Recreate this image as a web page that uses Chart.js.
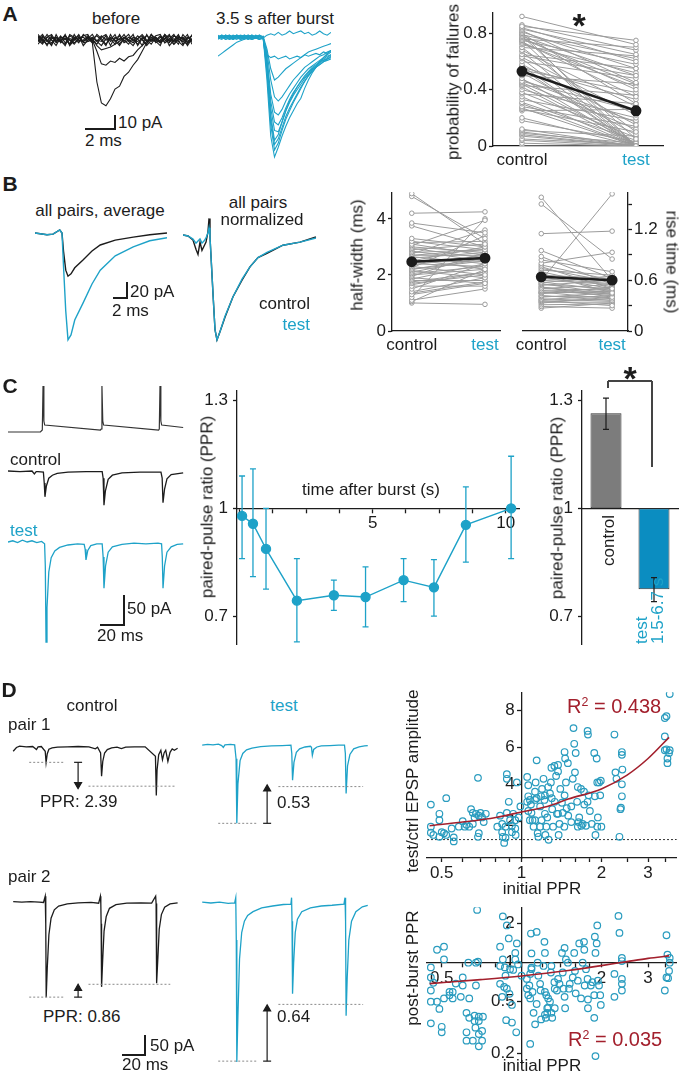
<!DOCTYPE html>
<html><head><meta charset="utf-8">
<script src="https://cdn.jsdelivr.net/npm/chart.js@4.4.1/dist/chart.umd.min.js"></script>
<style>
html,body{margin:0;padding:0;background:#fff;}
#fig{position:relative;width:682px;height:1077px;overflow:hidden;background:#fff;}
canvas{position:absolute;}
</style></head><body><div id="fig"></div>
<script>
// ================= DATA =================
// Panel A: example traces (time in ms, current in pA)
const tBefore = [0,0.3,0.6,0.9,1.2,1.5,1.8,2.1,2.4,2.7,3.0,3.3,3.6,3.9,4.2,4.5,4.8,5.1,5.4,5.7,6.0,6.3,6.6,6.9,7.2,7.5,7.8,8.1,8.4,8.7,9.0,9.3,9.6,9.9,10.2];
const beforeFail1 = [3,-1,4,0,-4,2,1,-3,4,-1,0,3,-1,4,1,-3,2,0,-4,1,4,-1,3,0,-3,4,1,-1,3,-4,0,4,-3,1,3];
const beforeFail2 = [-3,1,-4,2,0,-1,4,-3,1,3,-4,0,2,-1,-4,1,0,4,-3,2,-1,-4,1,4,0,-3,2,-1,1,4,-3,0,2,-4,1];
const beforeFail3 = [1,4,-1,-3,2,0,-4,3,1,-2,4,1,0,-3,2,4,-1,1,3,-2,0,4,-4,1,3,0,-1,-4,4,1,-1,3,0,4,-3];
const beforeFail4 = [0,-3,2,4,-1,1,3,-4,0,4,-2,-1,1,3,0,-4,4,-1,1,0,-3,2,1,-4,4,-1,0,3,-2,1,4,-1,-4,2,0];
const beforeFail5 = [-1,3,0,-4,4,-2,1,0,-3,1,3,4,-2,0,-1,3,-4,2,0,4,-1,1,-3,2,-1,4,-2,0,4,-1,1,-3,4,0,-1];
const beforeFail6 = [4,0,-3,1,2,-1,-3,4,2,0,-1,1,4,-1,3,0,1,-3,4,-1,2,0,-1,1,-4,0,3,4,-2,0,3,1,-1,-3,4];
const beforeResp1 = [1,-2,2,0,-1,3,-2,1,0,2,-1,1,-2,-30,-45,-47,-42,-35,-33,-26,-23,-18,-14,-8,-2,1,-1,2,0,-2,3,1,-1,2,0];
const beforeResp2 = [-1,2,0,-2,1,-1,3,0,-2,1,2,-1,0,-8,-17,-18,-15,-16,-13,-15,-12,-11,-7,-4,-1,2,0,-2,1,3,-1,0,2,-2,1];
const beforeResp3 = [2,0,-1,3,-2,0,1,-3,2,0,-1,2,1,-4,-7,-6,-5,-3,-1,2,0,-2,1,3,-1,0,2,-2,1,0,-3,2,1,-1,0];

const tAfter = [0,0.25,0.5,0.75,1,1.25,1.5,1.75,2,2.25,2.5,2.75,3,3.25,3.5,3.75,4,4.25,4.5,4.75,5,5.25,5.5,5.75,6,6.25,6.5,6.75,7,7.25,7.5];
const afterFail1 = [1,0,2,1,-1,2,0,1,2,0,1,-1,0,2,3,2,4,2,3,5,3,4,5,3,4,2,3,5,3,2,4];
const afterFail2 = [-13,-11,-9,-7,-5,-3,-2,-1,0,-1,0,1,0,-12,-14,-13,-15,-14,-13,-15,-14,-13,-14,-12,-13,-12,-11,-12,-10,-11,-9];
const afterResp1 = [0,1,-1,0,1,2,0,-1,1,0,2,1,0,-30,-70,-85,-78,-70,-63,-57,-52,-47,-43,-36,-30,-25,-21,-17,-14,-11,-9];
const afterResp2 = [1,0,2,1,0,-1,1,2,0,1,0,-1,1,-25,-62,-80,-75,-66,-58,-52,-46,-41,-36,-31,-27,-23,-20,-17,-15,-13,-12];
const afterResp3 = [-1,1,0,2,1,0,-1,0,1,2,1,0,-1,-22,-58,-76,-72,-64,-56,-50,-45,-40,-35,-31,-27,-24,-21,-19,-17,-15,-14];
const afterResp4 = [0,2,1,-1,0,1,2,1,-1,0,1,2,0,-20,-55,-73,-69,-60,-52,-45,-40,-35,-31,-28,-25,-22,-20,-18,-16,-15,-13];
const afterResp5 = [2,0,1,0,-1,1,0,2,1,-1,0,1,1,-18,-50,-66,-67,-60,-52,-46,-41,-37,-33,-29,-26,-23,-21,-19,-17,-16,-15];
const afterResp6 = [0,-1,1,2,0,1,-1,0,2,1,0,1,0,-16,-45,-60,-62,-57,-50,-44,-39,-35,-31,-27,-24,-21,-19,-17,-16,-14,-12];
const afterResp7 = [1,2,0,1,-1,0,1,0,1,2,0,-1,1,-14,-40,-53,-55,-51,-45,-40,-36,-32,-28,-25,-22,-20,-18,-16,-14,-12,-10];
const afterResp8 = [0,1,-1,0,2,1,0,1,0,-1,1,0,0,-10,-30,-42,-45,-42,-38,-34,-30,-27,-24,-21,-19,-17,-15,-13,-12,-10,-9];
const afterResp9 = [1,0,1,-1,0,2,1,0,-1,1,0,2,1,-8,-22,-30,-28,-25,-22,-20,-18,-16,-14,-12,-10,-9,-8,-7,-6,-5,-4];

// Panel A: probability of failures (control -> test)
const pairLabels = ['control','test'];
const failCtrl = [0.92,0.85,0.84,0.83,0.82,0.81,0.8,0.8,0.79,0.78,0.78,0.77,0.76,0.75,0.75,0.74,0.73,0.72,0.7,0.7,0.68,0.67,0.65,0.63,0.62,0.6,0.58,0.56,0.55,0.54,0.52,0.5,0.48,0.46,0.45,0.44,0.43,0.42,0.4,0.38,0.37,0.35,0.33,0.31,0.3,0.28,0.27,0.26,0.25,0.2,0.18,0.12,0.11,0.1,0.09,0.08,0.07,0.05,0.04,0.02,0.0,0.86,0.76,0.64,0.57,0.47];
const failTest = [0.72,0.75,0.6,0.65,0.45,0.55,0.3,0.0,0.62,0.5,0.05,0.4,0.7,0.58,0.0,0.35,0.42,0.52,0.1,0.64,0.28,0.0,0.55,0.22,0.0,0.48,0.15,0.33,0.0,0.38,0.08,0.44,0.0,0.25,0.12,0.02,0.36,0.0,0.2,0.06,0.3,0.0,0.18,0.04,0.0,0.14,0.0,0.1,0.26,0.0,0.03,0.0,0.07,0.0,0.02,0.0,0.0,0.01,0.0,0.0,0.0,0.68,0.44,0.5,0.0,0.17];
const failMean = [0.53, 0.25];
const failErr = [0.03, 0.03];
const failTicks = [0, 0.4, 0.8];

// Panel B: average traces (ms, pA) and normalized traces
const tAvg = [0,1.6,2.4,3.3,3.6,3.8,4.1,4.4,4.8,5.3,6.4,7.6,8.7,10.7,13.1,15.3,17.6];
const avgCtrl = [0,-3,-2,5,0,-30,-62,-72,-68,-58,-45,-30,-20,-12,-7,-3,0];
const avgTest = [0,-3,-2,5,0,-55,-130,-178,-170,-145,-117,-85,-62,-38,-23,-13,-8];
const tNorm = [0,0.67,1.33,1.73,2.0,2.27,2.53,2.8,3.07,3.33,3.47,3.6,4.0,4.27,4.53,4.93,5.6,6.67,7.87,8.93,10.0,11.2,13.33,15.6,17.73];
const normCtrl = [0.02,0.01,-0.03,-0.12,-0.17,-0.05,-0.13,-0.09,-0.05,0.05,0.18,0.0,-0.55,-0.9,-1.0,-0.92,-0.78,-0.58,-0.42,-0.29,-0.2,-0.16,-0.08,-0.05,0.0];
const normTest = [0.02,0.01,-0.02,-0.06,-0.04,-0.02,-0.06,-0.04,-0.01,0.04,0.09,0.0,-0.55,-0.9,-1.0,-0.92,-0.77,-0.58,-0.41,-0.29,-0.2,-0.15,-0.08,-0.05,-0.01];

// Panel B: half-width and rise time pairs
const hwCtrl = [4.9,4.8,4.2,3.85,3.75,3.3,3.2,3.1,3.05,3.0,2.95,2.9,2.85,2.8,2.75,2.7,2.65,2.6,2.55,2.5,2.5,2.45,2.4,2.35,2.3,2.25,2.2,2.15,2.1,2.05,2.0,1.95,1.9,1.85,1.8,1.75,1.7,1.6,1.5,1.4,1.3,1.2,1.1,1.05,1.0,3.15,2.7,2.2,1.65,1.35];
const hwTest = [3.1,3.3,4.25,3.5,3.0,3.0,2.9,2.7,3.95,2.8,2.6,3.1,2.5,2.9,3.6,2.7,2.4,2.8,2.2,3.0,2.6,2.5,2.3,2.7,2.0,3.4,2.5,1.9,2.6,2.3,2.2,2.8,1.7,2.4,1.8,2.1,2.0,1.6,2.4,1.9,1.7,4.0,1.5,2.2,0.95,3.2,2.9,2.6,2.1,1.75];
const hwMean = [2.47, 2.6];
const hwErr = [0.1, 0.1];
const hwTicks = [0, 2, 4];
const riseCtrl = [1.58,1.5,1.15,0.95,0.88,0.84,0.8,0.78,0.76,0.74,0.72,0.7,0.68,0.66,0.64,0.62,0.6,0.58,0.57,0.56,0.55,0.54,0.52,0.5,0.5,0.48,0.47,0.46,0.45,0.44,0.42,0.41,0.4,0.38,0.37,0.36,0.35,0.34,0.33,0.31,0.29,0.27,0.6,0.45,0.52];
const riseTest = [0.6,0.85,1.18,0.62,0.55,0.7,0.93,0.6,0.5,0.58,0.66,0.52,0.45,0.62,0.5,0.56,1.62,0.48,0.65,0.44,0.5,0.6,0.4,0.48,0.55,0.42,0.5,0.38,0.46,0.52,0.36,0.4,0.45,0.35,0.42,0.3,0.38,0.34,0.4,0.32,0.27,0.33,0.55,0.47,0.43];
const riseMean = [0.64, 0.6];
const riseErr = [0.03, 0.025];
const riseTicks = [0, 0.3, 0.6, 0.9, 1.2, 1.5];
const riseLabelled = [0, 0.6, 1.2];

// Panel C: traces (ms; mV / pA)
const tAP = [0,27,28.6,29.2,29.9,30.6,77,77.7,78.3,79,79.7,125.5,126.1,126.7,127.4,128.1,146];
const vAP = [-70,-70,-66,22,-48,-56,-66,-64,22,-48,-56,-66,-64,22,-48,-56,-61];
const tCCtrl = [0,10,20,22,23.5,25,29.5,30.2,30.8,32,34,37,41,50,65,78.5,79.3,80,81.2,83.5,87,95,110,127.5,128.5,129.2,130.5,132.5,136,146];
const vCCtrl = [0,-1,0,-5,-1,-1,-2,-20,-43,-25,-12,-7,-4,-2,-1,-1,-12,-57,-33,-14,-7,-3,-2,-2,-12,-53,-30,-13,-6,-3];
const tCTest = [0,4,8,12,16,20,24,28,30.5,31.1,31.7,32.5,34,36,39,43,50,58,63.5,64.3,65,66.5,69,74,78.5,79.3,80,81.3,83.5,87,95,105,115,125,128,128.6,129.2,130.5,132.5,136,141,146];
const vCTest = [0,2,-1,3,0,2,-1,1,-3,-40,-167,-110,-50,-26,-15,-9,-5,-3,-4,-12,-30,-14,-6,-3,-3,-25,-77,-40,-17,-8,-4,-2,-3,-2,-3,-25,-77,-40,-17,-8,-4,-3];

// Panel C: PPR time course
const pprTime = [0.09,0.5,0.99,2.15,3.54,4.73,6.16,7.3,8.5,10.2];
const pprMean = [0.979,0.957,0.887,0.743,0.758,0.753,0.80,0.78,0.954,1.0];
const pprHi = [1.09,1.11,1.0,0.86,0.8,0.837,0.86,0.857,1.06,1.145];
const pprLo = [0.86,0.81,0.775,0.628,0.716,0.67,0.74,0.70,0.85,0.86];
const timeTicks = [0,1.25,2.5,3.75,5,6.25,7.5,8.75,10];
const pprTicks = [0.7, 1, 1.3];

// Panel C: PPR bars
const barLabels = ['control', 'test 1.5-6.7 s'];
const barVals = [1.265, 0.775];
const barHi = [1.307, 0.807];
const barLo = [1.22, 0.74];

// Panel D: example pairs (ms, pA)
const tP1C = [0,3,6,12,18,21.5,23,26,29.6,30.4,31.5,33,36,41,50,60,70,76,78,80.8,81.7,82.8,84.5,87,91,96,100,104,112,122,131.5,132.3,133,134.5,136.5,138,139.5,141,143,145,147,149,152];
const vP1C = [-15,-4,0,-2,-1,-10,-2,-1,-15,-48,-22,-9,-5,-3,-2,-1,-2,-8,-3,-20,-88,-45,-20,-10,-5,-3,-7,-3,-2,-2,-30,-145,-70,-25,-12,-40,-20,-12,-45,-18,-8,-12,-6];
const tP1T = [0,5,10,15,18,19.5,21,26,30,31.3,32,33,35,37.5,41,46,54,64,74,82,82.8,83.5,84.8,87,90,95,100,101,101.8,103,106,110,118,126,131.5,132.3,133,134.3,136.5,140,145,150,153];
const vP1T = [-2,0,-1,1,-3,-8,-1,0,-1,-40,-220,-110,-45,-25,-15,-10,-6,-4,-3,-2,-25,-100,-50,-22,-12,-7,-5,-8,-30,-14,-7,-4,-3,-2,-2,-25,-137,-60,-28,-12,-7,-4,-3];
const tP2C = [0,8,16,24,28,29.6,30,30.2,30.5,31.5,33,35,38,42,50,60,72,79,80.6,81,81.3,81.7,82.7,84,86,89,95,105,118,128,131.7,132.1,132.4,132.8,133.8,135,137,140,145,152];
const vP2C = [0,-1,0,-1,-2,15,-5,-60,-260,-180,-90,-45,-22,-12,-6,-3,-2,-4,15,-5,-60,-232,-160,-80,-40,-18,-8,-4,-3,-4,15,-5,-60,-222,-150,-75,-35,-15,-6,-3];
const tP2T = [0,8,16,24,30,31,31.5,32,33,34.5,36.5,39,42,47,55,65,75,82,82.6,83,83.5,84.5,86,88,92,100,110,120,131,132,132.5,133,134,135.5,138,142,148,153];
const vP2T = [0,-2,0,-3,-2,12,-100,-422,-300,-150,-80,-50,-35,-25,-15,-10,-6,-5,12,-50,-242,-160,-80,-45,-25,-15,-10,-8,-5,12,-50,-300,-200,-100,-50,-25,-12,-8];
// reference levels [tStart, tEnd, level] and arrows [t, from, to]
const p1cLevels = [[14.8,47.8,-47.5],[69.6,149.6,-117.5]];
const p1tLevels = [[14.8,50.4,-220],[70.4,148.7,-117.5]];
const p2cLevels = [[14.8,47.8,-260],[69.6,145.2,-225]];
const p2tLevels = [[14.8,50.4,-420],[70.4,148.7,-270]];
const p1cArrow = [60,-47.5,-113];
const p1tArrow = [60,-220,-124];
const p2cArrow = [60,-260,-236];
const p2tArrow = [60,-420,-282];

// Panel D: scatter, [initial PPR, test/ctrl EPSP amplitude]
const ampScatter = [[0.455,2.9],[0.49,2.4],[0.49,2.05],[0.52,3.25],[0.455,1.7],[0.455,1.37],[0.465,1.25],[0.49,1.15],[0.5,1.4],[0.51,1.35],[0.52,1.25],[0.555,1.12],[0.555,0.9],[0.545,1.6],[0.58,1.7],[0.6,2.0],[0.61,1.7],[0.62,1.8],[0.635,1.7],[0.645,2.65],[0.655,2.45],[0.665,2.2],[0.673,2.4],[0.685,4.35],[0.69,2.3],[0.70,2.45],[0.71,2.2],[0.72,1.95],[0.733,2.4],[0.69,1.35],[0.685,1.15],[0.655,1.85],[0.83,2.3],[0.845,1.85],[0.845,1.4],[0.85,1.15],[0.86,0.82],[0.87,1.7],[0.88,4.55],[0.88,4.3],[0.88,2.45],[0.895,3.05],[0.905,2.05],[0.92,1.75],[0.92,1.4],[0.93,2.4],[0.947,2.05],[0.947,1.6],[0.95,1.25],[0.96,4.1],[0.975,2.2],[0.99,2.8],[0.87,1.1],[0.81,1.7],[1.05,4.4],[1.06,3.95],[1.06,3.35],[1.075,3.15],[1.085,2.9],[1.09,2.45],[1.1,2.05],[1.11,1.7],[1.124,3.6],[1.13,4.1],[1.14,5.3],[1.14,3.25],[1.15,1.35],[1.157,1.15],[1.175,2.8],[1.185,3.35],[1.195,3.75],[1.21,4.3],[1.22,3.15],[1.225,3.4],[1.23,1.25],[1.24,1.7],[1.25,2.2],[1.26,3.85],[1.265,0.99],[1.28,3.5],[1.29,4.1],[1.296,4.9],[1.305,2.65],[1.315,1.7],[1.33,5.0],[1.334,3.05],[1.35,4.45],[1.36,2.4],[1.373,5.05],[1.373,4.7],[1.38,1.25],[1.4,3.75],[1.42,3.0],[1.43,2.45],[1.453,5.75],[1.46,5.4],[1.47,4.1],[1.48,2.7],[1.495,5.15],[1.5,2.3],[1.54,2.8],[1.56,4.3],[1.57,7.05],[1.58,6.2],[1.59,4.65],[1.6,5.7],[1.62,3.05],[1.64,1.95],[1.65,2.2],[1.676,3.75],[1.68,1.75],[1.72,3.6],[1.724,2.9],[1.75,1.75],[1.774,6.9],[1.78,6.7],[1.79,3.4],[1.81,2.55],[1.84,1.85],[1.88,5.7],[1.89,3.35],[1.9,1.25],[1.92,5.4],[1.93,4.1],[1.94,2.2],[1.96,4.1],[1.98,3.4],[1.99,4.2],[2.0,1.7],[1.93,1.7],[2.24,6.7],[2.26,4.65],[2.28,4.3],[2.34,1.15],[2.36,2.65],[2.39,5.75],[2.39,5.6],[2.4,4.8],[2.39,4.0],[2.39,3.35],[2.37,2.73],[3.62,8.9],[3.52,7.7],[3.47,7.6],[3.47,6.6],[3.47,5.85],[3.55,5.4],[3.55,5.15],[3.62,5.85],[3.6,5.7],[3.52,5.9],[1.06,2.55],[1.075,2.05],[1.124,2.05],[1.175,1.7],[1.19,2.05],[1.225,2.4],[1.3,3.25],[1.373,2.4],[1.39,1.85],[1.45,1.7],[1.54,1.95],[1.63,1.7],[1.7,1.85],[1.774,3.05],[1.63,3.85],[1.453,3.4],[1.124,3.15],[1.05,3.05]];
const ampFitX = [0.45,0.6,0.8,1,1.25,1.5,2,2.5,3,3.6];
const ampFitY = [1.75,1.95,2.2,2.5,2.8,3.2,3.75,4.5,5.4,6.55];
const ampTicks = [2,4,6,8];
// Panel D: scatter, [initial PPR, post-burst PPR]
const postScatter = [[0.68,2.56],[0.85,2.28],[0.88,1.94],[0.895,1.54],[0.96,1.41],[0.947,1.19],[0.83,1.33],[0.48,1.26],[0.51,1.33],[0.51,1.06],[0.455,0.92],[0.455,0.77],[0.465,0.7],[0.455,0.61],[0.455,0.5],[0.48,0.5],[0.49,0.44],[0.51,0.53],[0.535,0.56],[0.55,0.595],[0.55,0.53],[0.59,0.545],[0.6,0.667],[0.635,0.53],[0.63,1.0],[0.673,1.0],[0.685,1.02],[0.455,0.34],[0.5,0.32],[0.5,0.29],[0.62,0.41],[0.635,0.375],[0.665,0.354],[0.665,0.39],[0.69,0.383],[0.715,0.383],[0.69,0.354],[0.67,0.315],[0.62,0.29],[0.62,0.25],[0.655,0.25],[0.69,0.281],[0.69,0.226],[0.71,0.25],[0.71,0.297],[0.673,0.667],[0.6,0.77],[0.565,0.69],[0.535,0.595],[0.83,0.944],[0.85,1.06],[0.865,0.92],[0.87,0.794],[0.88,0.63],[0.86,0.65],[0.905,0.89],[0.93,0.88],[0.947,1.06],[0.97,0.97],[0.845,0.545],[0.9,0.575],[0.92,0.472],[0.875,0.36],[0.92,0.345],[0.955,0.29],[0.83,0.687],[1.0,0.794],[1.047,0.75],[1.07,0.667],[1.09,0.917],[1.078,0.82],[1.085,1.68],[1.14,1.73],[1.09,1.18],[1.047,0.63],[1.06,0.561],[1.078,0.53],[1.1,0.595],[1.11,0.41],[1.14,0.48],[1.125,0.334],[1.078,0.236],[1.09,0.891],[1.15,1.0],[1.157,0.794],[1.175,0.687],[1.18,0.61],[1.21,0.944],[1.22,1.45],[1.225,1.19],[1.225,0.595],[1.24,0.561],[1.26,0.53],[1.25,0.445],[1.235,0.375],[1.25,0.41],[1.26,0.45],[1.28,0.5],[1.296,0.41],[1.305,0.375],[1.29,0.84],[1.296,0.944],[1.33,0.707],[1.334,0.63],[1.36,0.61],[1.373,0.75],[1.39,0.687],[1.43,0.84],[1.44,0.63],[1.453,0.545],[1.46,0.445],[1.42,1.19],[1.453,1.3],[1.47,1.06],[1.495,1.0],[1.225,0.397],[1.185,0.365],[1.334,0.445],[1.51,0.63],[1.52,0.687],[1.56,0.77],[1.58,1.19],[1.59,0.865],[1.6,0.58],[1.65,1.41],[1.676,0.53],[1.7,1.0],[1.72,1.45],[1.724,1.26],[1.73,0.667],[1.75,0.891],[1.774,0.75],[1.78,0.52],[1.825,0.667],[1.88,0.561],[1.89,1.59],[1.9,1.19],[1.92,1.41],[1.93,1.94],[1.94,0.727],[1.96,0.667],[1.98,0.561],[1.99,0.472],[1.88,0.375],[1.9,0.19],[1.78,0.445],[1.85,0.707],[1.63,0.727],[2.32,2.3],[2.34,1.7],[2.39,1.09],[2.39,1.03],[2.24,0.82],[2.24,0.545],[2.39,0.75],[2.39,0.687],[2.39,0.61],[3.52,1.63],[3.52,0.77],[3.47,0.61],[3.62,1.09],[3.62,1.0],[3.6,0.865],[3.57,0.76],[3.55,1.155]];
const postFitX = [0.45,0.7,1,1.5,2,2.5,3,3.6];
const postFitY = [0.69,0.74,0.79,0.87,0.95,1.02,1.08,1.13];
const initTicks = [0.5,0.6,0.7,0.8,0.9,1,1.2,1.4,1.6,1.8,2,2.5,3,3.5];
const initLabelsTop = [0.5,1,2,3];
const initLabelsBot = [0.5,2,3];
const postTicks = [0.2,0.5,1,2];

// ================= DRAWING =================
const FONT = "'Liberation Sans', Arial, Helvetica, sans-serif";
const INK = '#1c1c1c', CYAN = '#1ea2c8', GRAY = '#9b9b9b', RED = '#a3202d', BLUE = '#0b8dc1', BARGRAY = '#7c7c7c', DOTCYAN = '#2a9cbf';
Chart.defaults.font.family = FONT;
Chart.defaults.font.size = 17;
Chart.defaults.color = INK;
const fig = document.getElementById('fig');
const xy = (xs, ys) => xs.map((x, i) => ({x: x, y: ys[i]}));

const errPlugin = {
  id: 'errbars',
  afterDatasetsDraw(chart) {
    const ctx = chart.ctx;
    chart.data.datasets.forEach((ds, di) => {
      if (!ds.errLo) return;
      const meta = chart.getDatasetMeta(di);
      const ys = chart.scales[meta.yAxisID];
      ctx.save();
      ctx.strokeStyle = ds.errColor || INK;
      ctx.lineWidth = ds.errWidth || 1.2;
      meta.data.forEach((el, i) => {
        const x = el.x, y1 = ys.getPixelForValue(ds.errLo[i]), y2 = ys.getPixelForValue(ds.errHi[i]);
        const c = ds.capW || 3;
        ctx.beginPath();
        ctx.moveTo(x, y1); ctx.lineTo(x, y2);
        ctx.moveTo(x - c, y1); ctx.lineTo(x + c, y1);
        ctx.moveTo(x - c, y2); ctx.lineTo(x + c, y2);
        ctx.stroke();
      });
      ctx.restore();
    });
  }
};

function mk(left, top, w, h, cfg) {
  const c = document.createElement('canvas');
  c.width = w; c.height = h;
  c.style.left = left + 'px'; c.style.top = top + 'px';
  c.style.width = w + 'px'; c.style.height = h + 'px';
  fig.appendChild(c);
  cfg.options = Object.assign({responsive: false, animation: false, devicePixelRatio: 1, events: []}, cfg.options || {});
  cfg.options.plugins = Object.assign({legend: {display: false}, tooltip: {enabled: false}}, cfg.options.plugins || {});
  return new Chart(c, cfg);
}
function zeroFit(s) {
  if (s.isHorizontal()) s.height = 0; else s.width = 0;
  s._computeLabelArea = function () { return undefined; };
}
function setTicks(vals) { return s => { s.ticks = vals.map(v => ({value: v})); }; }
function axis(extra) {
  const base = {
    bounds: 'data',
    afterFit: zeroFit,
    border: {display: true, color: INK, width: 1.3},
    grid: {display: true, drawOnChartArea: false, drawTicks: true, tickLength: 4, tickColor: INK, tickWidth: 1.3},
    ticks: {padding: 2, color: INK, font: {size: 17, family: FONT}, autoSkip: false, maxRotation: 0, minRotation: 0}
  };
  const o = Object.assign({}, base, extra);
  o.border = Object.assign({}, base.border, extra.border || {});
  o.grid = Object.assign({}, base.grid, extra.grid || {});
  o.ticks = Object.assign({}, base.ticks, extra.ticks || {});
  return o;
}
function trace(xs, ys, color, w) {
  return {data: xy(xs, ys), borderColor: color, borderWidth: w || 1.2, pointRadius: 0, fill: false, clip: false, tension: 0};
}
function traceChart(left, top, w, h, xr, yr, datasets) {
  return mk(left, top, w, h, {
    type: 'line',
    data: {datasets: datasets},
    options: {
      layout: {padding: 0},
      scales: {
        x: {type: 'linear', display: false, min: xr[0], max: xr[1]},
        y: {type: 'linear', display: false, min: yr[0], max: yr[1]}
      }
    }
  });
}
function levelSets(levels) {
  return levels.map(l => ({data: [{x: l[0], y: l[2]}, {x: l[1], y: l[2]}], borderColor: '#8a8a8a', borderWidth: 1, borderDash: [2, 2], pointRadius: 0, clip: false}));
}
function arrowSet(a) {
  const down = a[2] < a[1];
  return {data: [{x: a[0], y: a[1]}, {x: a[0], y: a[2]}], borderColor: INK, borderWidth: 1.2, clip: false,
    pointStyle: ['line', 'triangle'], pointRadius: [4, 4], rotation: [0, down ? 180 : 0],
    pointBackgroundColor: INK, pointBorderColor: INK, pointBorderWidth: 1.2};
}
function T(html, x, y, o) {
  o = o || {};
  const d = document.createElement('div');
  d.innerHTML = html;
  const size = o.size || 17;
  let tf, origin = '50% 50%';
  if (o.rot && o.start) { tf = 'rotate(' + o.rot + 'deg) translateY(-50%)'; origin = '0 0'; }
  else if (o.rot) tf = 'translate(-50%,-50%) rotate(' + o.rot + 'deg)';
  else tf = 'translate(' + (o.align === 'left' ? 0 : o.align === 'right' ? -100 : -50) + '%,-50%)';
  d.style.cssText = 'position:absolute;left:' + x + 'px;top:' + y + 'px;font-family:' + FONT + ';font-size:' + size + 'px;font-weight:' + (o.bold ? 'bold' : 'normal') + ';color:' + (o.color || INK) + ';white-space:nowrap;line-height:1;transform-origin:' + origin + ';transform:' + tf + ';';
  fig.appendChild(d);
}
function L(x1, y1, x2, y2, w, color) {
  const d = document.createElement('div');
  w = w || 1.3;
  if (y1 === y2) d.style.cssText = 'position:absolute;left:' + x1 + 'px;top:' + (y1 - w / 2) + 'px;width:' + (x2 - x1) + 'px;height:' + w + 'px;background:' + (color || INK);
  else d.style.cssText = 'position:absolute;left:' + (x1 - w / 2) + 'px;top:' + y1 + 'px;width:' + w + 'px;height:' + (y2 - y1) + 'px;background:' + (color || INK);
  fig.appendChild(d);
}

// ---- Panel A traces ----
traceChart(38, 28, 154, 82, [0, 10.2], [-50, 8.6], [
  beforeFail1, beforeFail2, beforeFail3, beforeFail4, beforeFail5, beforeFail6, beforeResp3, beforeResp2, beforeResp1
].map(v => trace(tBefore, v, INK, 1.1)));
traceChart(218, 28, 113, 132, [0, 7.5], [-87.1, 7.1], [
  afterFail1, afterFail2, afterResp9, afterResp8, afterResp7, afterResp6, afterResp5, afterResp4, afterResp3, afterResp2, afterResp1
].map(v => trace(tAfter, v, CYAN, 1.1)));

// ---- Panel A scatter ----
function pairChart(left, top, w, h, pad, xr, yr, ctrl, test, mean, err, yTicks, yLabelled, yPos) {
  const pairs = ctrl.map((c, i) => ({data: [{x: 0, y: c}, {x: 1, y: test[i]}], borderColor: GRAY, borderWidth: 1,
    pointRadius: 2.3, pointBorderWidth: 1, pointBorderColor: GRAY, pointBackgroundColor: '#fff', order: 2}));
  const m = {data: [{x: 0, y: mean[0]}, {x: 1, y: mean[1]}], borderColor: INK, borderWidth: 2.5, pointRadius: 4.2,
    pointBackgroundColor: INK, pointBorderColor: INK, order: 0,
    errLo: [mean[0] - err[0], mean[1] - err[1]], errHi: [mean[0] + err[0], mean[1] + err[1]], errColor: INK, capW: 3, errWidth: 1.5};
  const lab = new Set(yLabelled);
  return mk(left, top, w, h, {
    type: 'line',
    data: {datasets: pairs.concat([m])},
    options: {
      layout: {padding: pad},
      scales: {
        x: axis({type: 'linear', position: 'bottom', min: xr[0], max: xr[1], afterBuildTicks: setTicks([0, 1]),
          grid: {display: false, drawTicks: false},
          ticks: {padding: 4, callback: v => pairLabels[v], color: c => (c.tick && c.tick.value === 1) ? CYAN : INK}}),
        y: axis({type: 'linear', position: yPos, min: yr[0], max: yr[1], afterBuildTicks: setTicks(yTicks),
          ticks: {callback: v => lab.has(v) ? String(v) : ''}})
      }
    },
    plugins: [errPlugin]
  });
}
pairChart(430, 0, 252, 170, {left: 63, top: 6, right: 19, bottom: 24}, [-0.254, 1.237], [0, 0.95],
  failCtrl, failTest, failMean, failErr, failTicks, failTicks, 'left');

// ---- Panel B traces ----
traceChart(35, 228, 132, 114, [0, 17.6], [-181.7, 8.3], [trace(tAvg, avgTest, CYAN, 1.4), trace(tAvg, avgCtrl, INK, 1.4)]);
traceChart(183, 214, 134, 130, [0, 17.87], [-1.039, 0.223], [trace(tNorm, normTest, CYAN, 1.4), trace(tNorm, normCtrl, INK, 1.4)]);

// ---- Panel B scatter ----
pairChart(340, 180, 170, 175, {left: 52, top: 10, right: 10, bottom: 24}, [-0.27, 1.205], [0, 4.95],
  hwCtrl, hwTest, hwMean, hwErr, hwTicks, hwTicks, 'left');
pairChart(510, 180, 172, 175, {left: 10, top: 10, right: 54, bottom: 24}, [-0.261, 1.224], [0, 1.64],
  riseCtrl, riseTest, riseMean, riseErr, riseTicks, riseLabelled, 'right');

// ---- Panel C traces ----
traceChart(8, 384, 176, 52, [0, 146.7], [-78, 26], [trace(tAP, vAP, '#333', 1.2)]);
traceChart(8, 466, 176, 41, [0, 146.7], [-60, 8.33], [trace(tCCtrl, vCCtrl, INK, 1.3)]);
traceChart(8, 537, 176, 108, [0, 146.7], [-171.7, 8.33], [trace(tCTest, vCTest, CYAN, 1.3)]);

// ---- Panel C PPR time course ----
mk(195, 375, 330, 285, {
  type: 'line',
  data: {datasets: [{data: xy(pprTime, pprMean), borderColor: CYAN, borderWidth: 1.4, pointRadius: 4.5,
    pointBackgroundColor: CYAN, pointBorderColor: CYAN, errLo: pprLo, errHi: pprHi, errColor: CYAN, capW: 3, errWidth: 1.3}]},
  options: {
    layout: {padding: {left: 42, top: 8, right: 5, bottom: 12}},
    scales: {
      x: axis({type: 'linear', position: {y: 1}, min: -0.1, max: 10.5, afterBuildTicks: setTicks(timeTicks),
        ticks: {padding: 1, callback: v => (v === 5 || v === 10) ? String(v) : ''}}),
      y: axis({type: 'linear', position: 'left', min: 0.62, max: 1.329, afterBuildTicks: setTicks(pprTicks),
        ticks: {padding: 5, callback: v => String(v)}})
    }
  },
  plugins: [errPlugin]
});

// ---- Panel C bars ----
mk(540, 375, 142, 285, {
  type: 'bar',
  data: {labels: barLabels, datasets: [{data: barVals.map(v => [1, v]), backgroundColor: [BARGRAY, BLUE],
    borderColor: '#333', borderWidth: 1, borderSkipped: false, barPercentage: 0.646, categoryPercentage: 1,
    errLo: barLo, errHi: barHi, errColor: INK, capW: 3, errWidth: 1.2}]},
  options: {
    layout: {padding: {left: 42, top: 8, right: 4, bottom: 12}},
    scales: {
      x: axis({type: 'category', position: {y: 1}, grid: {display: false, drawTicks: false}, ticks: {display: false}}),
      y: axis({type: 'linear', position: 'left', min: 0.62, max: 1.329, afterBuildTicks: setTicks(pprTicks),
        ticks: {padding: 5, callback: v => String(v)}})
    }
  },
  plugins: [errPlugin]
});

// ---- Panel D traces ----
traceChart(8, 735, 175, 70, [0, 152.17], [-157.5, 17.5], levelSets(p1cLevels).concat([arrowSet(p1cArrow), trace(tP1C, vP1C, INK, 1.3)]));
traceChart(197, 733, 176, 100, [0, 153.04], [-232.5, 17.5], levelSets(p1tLevels).concat([arrowSet(p1tArrow), trace(tP1T, vP1T, CYAN, 1.3)]));
traceChart(8, 880, 175, 126, [0, 152.17], [-270, 45], levelSets(p2cLevels).concat([arrowSet(p2cArrow), trace(tP2C, vP2C, INK, 1.3)]));
traceChart(197, 880, 176, 192, [0, 153.04], [-435, 45], levelSets(p2tLevels).concat([arrowSet(p2tArrow), trace(tP2T, vP2T, CYAN, 1.3)]));

// ---- Panel D scatter ----
const scatterSet = pts => ({type: 'scatter', data: pts.map(p => ({x: p[0], y: p[1]})), showLine: false, pointRadius: 3.3,
  pointBorderWidth: 1.2, pointBorderColor: DOTCYAN, pointBackgroundColor: 'rgba(255,255,255,0)', order: 2});
const fitSet = (xs, ys) => ({type: 'line', data: xy(xs, ys), borderColor: RED, borderWidth: 1.6, pointRadius: 0,
  cubicInterpolationMode: 'monotone', order: 0});
const topLab = new Set(initLabelsTop), botLab = new Set(initLabelsBot);
mk(400, 680, 282, 220, {
  type: 'scatter',
  data: {datasets: [scatterSet(ampScatter), fitSet(ampFitX, ampFitY),
    {type: 'line', data: [{x: 0.44, y: 1}, {x: 3.85, y: 1}], borderColor: '#333', borderWidth: 1, borderDash: [2, 2], pointRadius: 0, order: 3}]},
  options: {
    layout: {padding: {left: 27, top: 6, right: 2, bottom: 42}},
    scales: {
      x: axis({type: 'logarithmic', position: 'bottom', min: 0.44, max: 3.85, afterBuildTicks: setTicks(initTicks),
        ticks: {padding: 1, callback: v => topLab.has(v) ? String(v) : ''}}),
      y: axis({type: 'linear', position: {x: 1}, min: 0, max: 9, afterBuildTicks: setTicks(ampTicks),
        ticks: {callback: v => String(v) + '\u2009\u2009'}})
    }
  }
});
mk(400, 895, 282, 182, {
  type: 'scatter',
  data: {datasets: [scatterSet(postScatter), fitSet(postFitX, postFitY)]},
  options: {
    layout: {padding: {left: 27, top: 8, right: 2, bottom: 14}},
    scales: {
      x: axis({type: 'logarithmic', position: {y: 1}, min: 0.44, max: 3.85, afterBuildTicks: setTicks(initTicks),
        ticks: {padding: 1, callback: v => botLab.has(v) ? String(v) : ''}}),
      y: axis({type: 'logarithmic', position: {x: 1}, min: 0.168, max: 2.685, afterBuildTicks: setTicks(postTicks),
        ticks: {callback: v => String(v) + '\u2009\u2009'}})
    }
  }
});

// ================= TEXT & SCALE BARS =================
T('A', 10, 13, {bold: true, size: 21});
T('before', 116, 18);
T('3.5 s after burst', 275, 18);
L(85, 129, 115, 129); L(115, 115, 115, 129.6);
T('10 pA', 118, 122, {align: 'left'});
T('2 ms', 85, 140, {align: 'left'});
T('probability of failures', 453, 82, {rot: -90});
T('*', 579, 25, {bold: true, size: 34});

T('B', 10, 183, {bold: true, size: 21});
T('all pairs, average', 100, 210);
T('all pairs', 258, 202);
T('normalized', 262, 219);
L(113, 298, 127, 298); L(127, 282, 127, 298.6);
T('20 pA', 130, 291, {align: 'left'});
T('2 ms', 112, 310, {align: 'left'});
T('control', 310, 303, {align: 'right'});
T('test', 310, 324, {align: 'right', color: CYAN});
T('half-width (ms)', 357, 255, {rot: -90});
T('rise time (ms)', 672, 262, {rot: 90});

T('C', 10, 385, {bold: true, size: 21});
T('control', 10, 459, {align: 'left'});
T('test', 10, 530, {align: 'left', color: CYAN});
L(100, 625, 124, 625); L(124, 595, 124, 625.6);
T('50 pA', 127, 608, {align: 'left'});
T('20 ms', 97, 635, {align: 'left'});
T('paired-pulse ratio (PPR)', 207, 507, {rot: -90});
T('time after burst (s)', 371, 489);
T('paired-pulse ratio (PPR)', 557, 508, {rot: -90});
L(608, 381, 652, 381, 1.2, '#444'); L(608, 381, 608, 388, 1.2, '#444'); L(652, 381, 652, 467, 1.2, '#444');
T('*', 630, 378, {bold: true, size: 34});
T('control', 608, 566, {rot: -90, start: true});
T('test', 641, 644, {rot: -90, start: true, color: CYAN});
T('1.5-6.7 s', 657, 644, {rot: -90, start: true, color: CYAN});

T('D', 9, 689, {bold: true, size: 21});
T('control', 92, 705);
T('test', 284, 705, {color: CYAN});
T('pair 1', 8, 724, {align: 'left'});
T('PPR: 2.39', 40, 801, {align: 'left'});
T('0.53', 277, 802, {align: 'left'});
T('pair 2', 8, 876, {align: 'left'});
T('PPR: 0.86', 43, 1016, {align: 'left'});
T('0.64', 277, 1016, {align: 'left'});
L(122, 1055, 145, 1055); L(145, 1035, 145, 1055.6);
T('50 pA', 150, 1045, {align: 'left'});
T('20 ms', 122, 1064, {align: 'left'});
T('test/ctrl EPSP amplitude', 412, 781, {rot: -90});
T('post-burst PPR', 412, 968, {rot: -90});
T('initial PPR', 542, 888);
T('initial PPR', 542, 1065);
T('R<sup style="font-size:0.62em;vertical-align:0.55em">2</sup> = 0.438', 567, 706, {align: 'left', size: 20, color: RED});
T('R<sup style="font-size:0.62em;vertical-align:0.55em">2</sup> = 0.035', 568, 1039, {align: 'left', size: 20, color: RED});
</script></body></html>
